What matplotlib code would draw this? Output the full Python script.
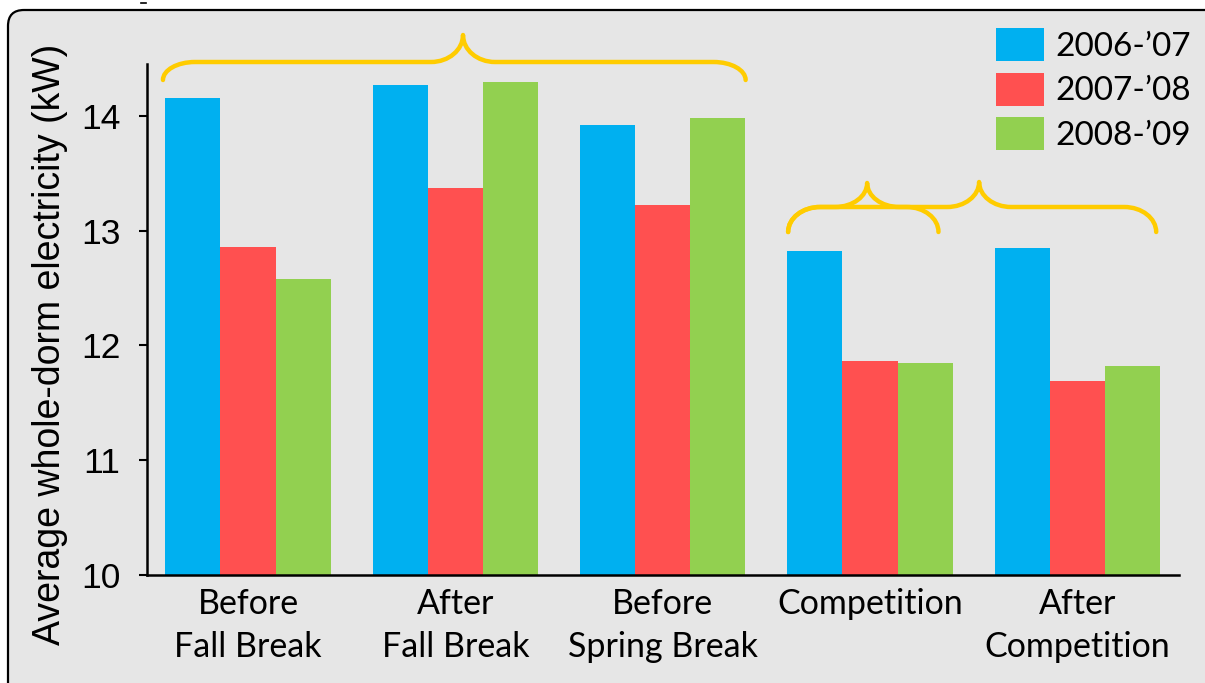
import numpy as np
import matplotlib
matplotlib.use("Agg")
import matplotlib.pyplot as plt
from matplotlib.patches import FancyBboxPatch, Patch, PathPatch
from matplotlib.path import Path
from matplotlib.lines import Line2D

categories = ["Before\nFall Break", "After\nFall Break", "Before\nSpring Break",
              "Competition", "After\nCompetition"]
series_names = ["2006-\u201907", "2007-\u201908", "2008-\u201909"]
vals_0607 = [14.15, 14.27, 13.92, 12.82, 12.85]
vals_0708 = [12.86, 13.37, 13.22, 11.86, 11.69]
vals_0809 = [12.58, 14.29, 13.98, 11.85, 11.82]
yticks = [10, 11, 12, 13, 14]
colors = ["#00b0f0", "#ff5050", "#92d050"]

W, H = 1205, 683
fig = plt.figure(figsize=(W / 100, H / 100), dpi=100, facecolor="white")

# rounded grey background panel
panel = FancyBboxPatch((8, -30), W + 40, H - 10 + 30,
                       boxstyle="round,pad=0,rounding_size=16",
                       transform=None, facecolor="#e6e6e6", edgecolor="black",
                       linewidth=1.6, zorder=-5)
fig.patches.append(panel)
fig.lines.append(Line2D([141 / W, 146 / W], [1 - 3 / H, 1 - 3 / H],
                        transform=fig.transFigure, color="black", lw=1.2))

ax = fig.add_axes([147 / W, 1 - 575 / H, (1179 - 147) / W, (575 - 64) / H])
ax.set_zorder(1)
ax.patch.set_visible(False)

x = np.arange(len(categories))
w = 0.266
for j, (vals, c, name) in enumerate(zip([vals_0607, vals_0708, vals_0809], colors, series_names)):
    ax.bar(x + (j - 1) * w, np.array(vals) - 10, width=w, bottom=10, color=c,
           edgecolor="none", label=name, zorder=2)

ax.set_xlim(-0.487, 4.49)
ax.set_ylim(10, 14.45)
ax.set_yticks(yticks)
ax.set_yticklabels([str(t) for t in yticks], fontsize=25.5, family="Liberation Sans")
ax.set_xticks(x)
ax.set_xticklabels(categories, fontsize=24.5, family="Lato", linespacing=1.45)
ax.tick_params(axis="x", length=0, pad=9)
ax.tick_params(axis="y", length=6, width=1.5, pad=13, direction="out")
for s in ["top", "right"]:
    ax.spines[s].set_visible(False)
for s in ["left", "bottom"]:
    ax.spines[s].set_linewidth(1.8)

fig.text(50 / W, 1 - 344 / H, "Average whole-dorm electricity (kW)", rotation=90,
         ha="center", va="center", fontsize=27, family="Liberation Sans", zorder=5)

# legend
handles = [Patch(facecolor=c, edgecolor="none") for c in colors]
fs = 24
fpx = fs * 100 / 72
leg = ax.legend(handles, series_names, loc="upper left",
                bbox_to_anchor=(996 / W, 1 - 28 / H), bbox_transform=fig.transFigure,
                frameon=False, prop={"family": "Lato", "size": fs},
                handlelength=48 / fpx, handleheight=38 / fpx,
                labelspacing=11 / fpx, handletextpad=11 / fpx, borderpad=0,
                borderaxespad=0)

# braces
fig.canvas.draw()
inv = ax.transData.inverted()

def brace(x0, x1, xp, y_end_px, y_h_px, y_pk_px, rx=32):
    # x in data, y in pixels from top
    p0 = ax.transData.transform((x0, 10))[0]
    p1 = ax.transData.transform((x1, 10))[0]
    pp = ax.transData.transform((xp, 10))[0]
    ye, yh, yk = H - y_end_px, H - y_h_px, H - y_pk_px
    k = 0.552
    verts = [
        (p0, ye),
        (p0, ye + k * (yh - ye)), (p0 + rx * (1 - k), yh), (p0 + rx, yh),
        (pp - rx, yh),
        (pp - rx + k * rx, yh), (pp, yk - k * (yk - yh)), (pp, yk),
        (pp, yk - k * (yk - yh)), (pp + rx - k * rx, yh), (pp + rx, yh),
        (p1 - rx, yh),
        (p1 - rx * (1 - k), yh), (p1, ye + k * (yh - ye)), (p1, ye),
    ]
    codes = [Path.MOVETO, Path.CURVE4, Path.CURVE4, Path.CURVE4, Path.LINETO,
             Path.CURVE4, Path.CURVE4, Path.CURVE4, Path.CURVE4, Path.CURVE4, Path.CURVE4,
             Path.LINETO, Path.CURVE4, Path.CURVE4, Path.CURVE4]
    verts = [inv.transform(v) for v in verts]
    pth = Path(verts, codes)
    ax.add_patch(PathPatch(pth, facecolor="none", edgecolor="#ffcc00", lw=3.2,
                           capstyle="round", joinstyle="round", clip_on=False, zorder=3))

brace(-0.41, 2.40, 1.037, 80, 62, 35)
brace(2.605, 4.38, 3.526, 232, 207, 182)
brace(2.605, 3.33, 2.986, 232, 207, 183)

fig.savefig("out.png", dpi=100, facecolor="white")
